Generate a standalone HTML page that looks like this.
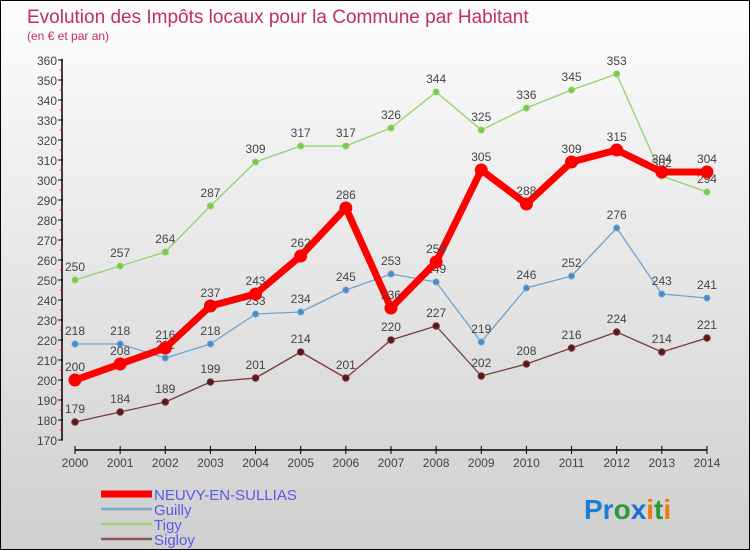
<!DOCTYPE html>
<html><head><meta charset="utf-8"><style>
body{margin:0}
#c{width:748px;height:548px;border:1px solid #000;background:linear-gradient(#fdfdfd,#cfcfcf);position:relative;font-family:"Liberation Sans",sans-serif;overflow:hidden}
</style></head><body>
<div id="c">
<svg id="s" width="748" height="548" xmlns="http://www.w3.org/2000/svg">
<text x="26" y="22" font-size="19" fill="#c0305a">Evolution des Impôts locaux pour la Commune par Habitant</text>
<text x="26" y="39" font-size="12" fill="#c0305a">(en € et par an)</text>
<g id="axes"></g><g id="series"></g><g id="legend"></g>
<text x="583" y="518" font-size="28" font-weight="bold"><tspan fill="#1a7fd0">Pr</tspan><tspan fill="#2a9a3a">o</tspan><tspan fill="#1a6fd0">x</tspan><tspan fill="#f07a10">i</tspan><tspan fill="#2a9a3a">t</tspan><tspan fill="#f07a10">i</tspan></text>
</svg></div>
<script>
const years=[2000,2001,2002,2003,2004,2005,2006,2007,2008,2009,2010,2011,2012,2013,2014];
const neuvy=[200,208,216,237,243,262,286,236,259,305,288,309,315,304,304];
const guilly=[218,218,211,218,233,234,245,253,249,219,246,252,276,243,241];
const tigy=[250,257,264,287,309,317,317,326,344,325,336,345,353,302,294];
const sigloy=[179,184,189,199,201,214,201,220,227,202,208,216,224,214,221];
const yTicks=[170,180,190,200,210,220,230,240,250,260,270,280,290,300,310,320,330,340,350,360];
const NS="http://www.w3.org/2000/svg";
const X=i=>74+i*45.14, Y=v=>439-(v-170)*2;
function mk(t,a,p){const e=document.createElementNS(NS,t);for(const k in a)e.setAttribute(k,a[k]);p.appendChild(e);return e;}
const ax=document.getElementById('axes');
let e=mk('line',{x1:61,y1:58,x2:61,y2:439,stroke:'#000','stroke-width':1.5},ax);


e=mk('line',{x1:74,y1:449,x2:706,y2:449,stroke:'#000','stroke-width':1.5},ax);


yTicks.forEach(v=>{mk('line',{x1:57,x2:62,y1:Y(v),y2:Y(v),stroke:'#000'},ax);
 mk('line',{x1:59,x2:62,y1:Y(v+5),y2:Y(v+5),stroke:v<360?'#e00':'none'},ax);
 const t=mk('text',{x:56,y:Y(v)+5,'font-size':12,fill:'#444','text-anchor':'end'},ax);t.textContent=v;
 
 });
years.forEach((y,i)=>{mk('line',{x1:X(i),x2:X(i),y1:445,y2:453,stroke:'#000'},ax);
 const t=mk('text',{x:X(i),y:466,'font-size':12,fill:'#444','text-anchor':'middle'},ax);t.textContent=y;
 
 });
const sg=document.getElementById('series');
function draw(d,col,w,r,name,dot){
 const g=mk('g',{},sg);
 
 
 mk('polyline',{points:d.map((v,i)=>X(i)+','+Y(v)).join(' '),fill:'none',stroke:col,'stroke-width':w,'stroke-linejoin':'round'},g);
 d.forEach((v,i)=>{const c=mk('circle',{cx:X(i),cy:Y(v),r:r,fill:dot,stroke:col,'stroke-width':1},g);
  
  
  const t=mk('text',{x:X(i),y:Y(v)-9,'font-size':12,fill:'#444','text-anchor':'middle'},g);t.textContent=v;
  
  });
}
draw(tigy,'#8fd46a',1.3,3,'tigy','#7cc84e');
draw(guilly,'#6fa3d0',1.3,3,'guilly','#4a8ac8');
draw(sigloy,'#7a3a3a',1.3,3.3,'sigloy','#5a1818');
draw(neuvy,'#ff0000',7,6,'neuvy','#ff0000');
const lg=document.getElementById('legend');
[['NEUVY-EN-SULLIAS','#ff0000',7],['Guilly','#7aa8cc',2.5],['Tigy','#9ed47a',2.5],['Sigloy','#8a5a5a',2.5]].forEach((l,i)=>{
 const g=mk('g',{},lg);
 
 
 const y=493+i*15;
 mk('line',{x1:100,x2:151,y1:y,y2:y,stroke:l[1],'stroke-width':l[2]},g);
 const t=mk('text',{x:153,y:y+6,'font-size':15,fill:'#5a5ae8'},g);t.textContent=l[0];
});
</script></body></html>
